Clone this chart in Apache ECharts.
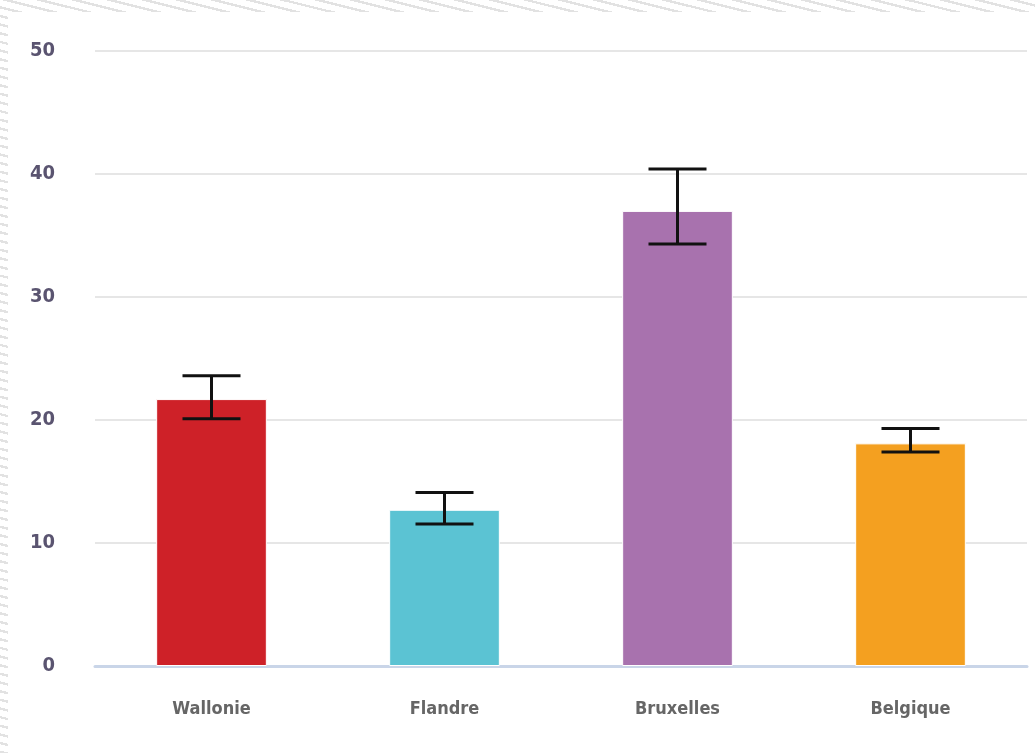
<!DOCTYPE html>
<html>
<head>
<meta charset="utf-8">
<script src="https://cdn.jsdelivr.net/npm/echarts@6/dist/echarts.min.js"></script>
<style>
  html, body { margin: 0; padding: 0; width: 1035px; height: 753px; overflow: hidden;
    background: repeating-linear-gradient(14deg, #e2e2e2 0px, #e2e2e2 2.4px, #ffffff 2.4px, #ffffff 8.4px); }
  #panel { position: absolute; left: 8px; top: 12px; right: 0; bottom: 0; background: #fff; }
  #chart { position: absolute; left: 0; top: 0; width: 1035px; height: 753px; }
</style>
</head>
<body>
<div id="panel"></div>
<div id="chart"></div>
<script>
const categories = ['Wallonie', 'Flandre', 'Bruxelles', 'Belgique'];
const values = [21.7, 12.7, 37.0, 18.1];
const errLow = [20.1, 11.55, 34.3, 17.4];
const errHigh = [23.6, 14.1, 40.4, 19.3];
const barColors = ['#CE2128', '#5BC3D3', '#A872AE', '#F4A020'];
const yTicks = [0, 10, 20, 30, 40, 50];

const font = '"Liberation Sans Narrow", "DejaVu Sans Condensed", "Roboto", sans-serif';

const chart = echarts.init(document.getElementById('chart'));
chart.setOption({
  animation: false,
  backgroundColor: 'transparent',
  grid: { left: 95, right: 8, top: 51, bottom: 87 },
  xAxis: {
    type: 'category',
    data: categories,
    axisLine: { show: true, lineStyle: { color: '#C9D5E8', width: 3 } },
    axisTick: { show: false },
    axisLabel: { color: '#666666', fontFamily: font, fontWeight: 'bold', fontSize: 18, margin: 34 }
  },
  yAxis: {
    type: 'value',
    min: yTicks[0],
    max: yTicks[yTicks.length - 1],
    interval: 10,
    axisLine: { show: false },
    axisTick: { show: false },
    splitLine: { lineStyle: { color: '#E6E6E6', width: 2 } },
    axisLabel: { color: '#5A5470', fontFamily: font, fontWeight: 'bold', fontSize: 20, margin: 40 }
  },
  series: [
    {
      type: 'bar',
      barWidth: '47.5%',
      data: values.map((v, i) => ({ value: v, itemStyle: { color: barColors[i] } })),
      itemStyle: { borderColor: '#ffffff', borderWidth: 1 },
      z: 2
    },
    {
      type: 'custom',
      z: 5,
      data: categories.map((c, i) => [i, errLow[i], errHigh[i]]),
      renderItem: function (params, api) {
        const lo = api.coord([api.value(0), api.value(1)]);
        const hi = api.coord([api.value(0), api.value(2)]);
        const hw = 29;
        const style = { stroke: '#111111', lineWidth: 3 };
        return {
          type: 'group',
          children: [
            { type: 'line', shape: { x1: lo[0], y1: lo[1], x2: hi[0], y2: hi[1] }, style: style },
            { type: 'line', shape: { x1: lo[0] - hw, y1: lo[1], x2: lo[0] + hw, y2: lo[1] }, style: style },
            { type: 'line', shape: { x1: hi[0] - hw, y1: hi[1], x2: hi[0] + hw, y2: hi[1] }, style: style }
          ]
        };
      }
    }
  ]
});
</script>
</body>
</html>
